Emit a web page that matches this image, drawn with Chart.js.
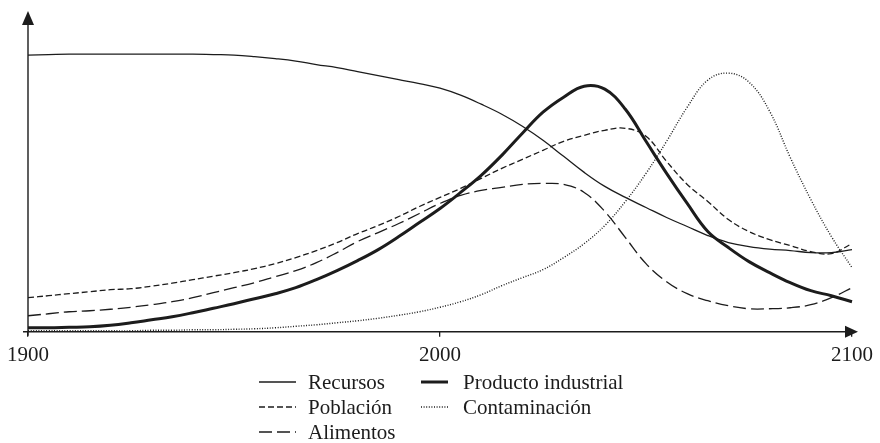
<!DOCTYPE html>
<html>
<head>
<meta charset="utf-8">
<script src="https://cdn.jsdelivr.net/npm/chart.js@4"></script>
<style>
  html, body { margin: 0; padding: 0; background: #fff; }
  #myChart { display: block; }
</style>
</head>
<body>
<canvas id="myChart" width="880" height="443"></canvas>
<script>
    // years on a 5-year grid (arbitrary units)
    const years = [1900, 1905, 1910, 1915, 1920, 1925, 1930, 1935, 1940, 1945,
                   1950, 1955, 1960, 1965, 1970, 1975, 1980, 1985, 1990, 1995,
                   2000, 2005, 2010, 2015, 2020, 2025, 2030, 2035, 2040, 2045,
                   2050, 2055, 2060, 2065, 2070, 2075, 2080, 2085, 2090, 2095, 2100];

    const recursos = [276, 276.5, 277, 277, 277, 277, 277, 277, 277, 276.5,
                      276, 274.5, 272.5, 270, 266.5, 263.5, 259.5, 255.5, 251.5, 247.5,
                      243, 236, 227, 217, 205, 191, 175, 159, 145, 134,
                      124, 114, 105, 96, 89, 85, 82.5, 81, 79, 79, 82];

    const poblacion = [34, 36, 38, 40, 42, 43, 45.5, 48.5, 52, 55.5,
                       59, 63, 68, 74, 81, 89, 98, 106, 115, 125,
                       134, 143, 153, 163, 172, 181, 190, 196, 201, 203,
                       195, 170, 147, 130, 112, 100, 92, 86, 80, 78, 88];

    const alimentos = [16, 18, 20, 21, 22.5, 24.5, 27, 30, 34, 39,
                       44, 49, 55, 61, 69, 79, 90, 99, 108, 118,
                       128, 136, 141, 144, 147, 148, 147, 139, 120, 94,
                       68, 50, 38, 31, 26, 23, 23, 24, 27, 34, 44];

    const producto = [4, 4, 4.5, 5, 6.5, 9, 12, 15, 19, 23.5,
                      28, 33, 38, 44, 52, 61, 71, 82, 95, 109,
                      123, 139, 156, 176, 198, 219, 234, 245, 242, 222,
                      190, 158, 128, 100, 84, 70, 59, 49, 41, 36, 30];

    const contaminacion = [1, 1, 1, 1, 1, 1, 1.5, 1.5, 2, 2,
                           2.5, 3, 4, 5.5, 7, 9, 11, 13.5, 16.5, 20,
                           24.5, 30, 37, 46, 54, 62, 74, 88, 106, 130,
                           158, 190, 224, 251, 258, 249, 220, 174, 132, 95, 64];

    const tickYears = [1900, 2000, 2100];

    const ink = '#1c1c1c';
    const serif = 'Liberation Serif';

    const toPoints = (vals) => vals.map((v, i) => ({x: years[i], y: v}));

    const data = {
      datasets: [
        { label: 'Recursos', data: toPoints(recursos), borderWidth: 1.3, borderDash: [] },
        { label: 'Población', data: toPoints(poblacion), borderWidth: 1.3, borderDash: [6, 3] },
        { label: 'Alimentos', data: toPoints(alimentos), borderWidth: 1.3, borderDash: [13, 5] },
        { label: 'Producto industrial', data: toPoints(producto), borderWidth: 3, borderDash: [] },
        { label: 'Contaminación', data: toPoints(contaminacion), borderWidth: 1.4, borderDash: [1, 1.6] }
      ].map(d => Object.assign(d, {
        borderColor: ink,
        pointRadius: 0,
        fill: false,
        tension: 0.4
      }))
    };

    // axis lines with arrow heads
    const arrowAxes = {
      id: 'arrowAxes',
      afterDraw(chart) {
        const {ctx, chartArea: {left, right, bottom}} = chart;
        ctx.save();
        ctx.strokeStyle = ink;
        ctx.fillStyle = ink;
        ctx.lineWidth = 1.4;

        ctx.beginPath();
        ctx.moveTo(left, bottom + 4);
        ctx.lineTo(left, 22);
        ctx.moveTo(left - 5, bottom);
        ctx.lineTo(right, bottom);
        ctx.stroke();

        ctx.beginPath();
        ctx.moveTo(left, 11);
        ctx.lineTo(left - 6, 25);
        ctx.lineTo(left + 6, 25);
        ctx.closePath();
        ctx.fill();

        ctx.beginPath();
        ctx.moveTo(right + 6, bottom);
        ctx.lineTo(right - 7, bottom - 6);
        ctx.lineTo(right - 7, bottom + 6);
        ctx.closePath();
        ctx.fill();
        ctx.restore();
      }
    };

    // two-column legend under the plot
    const legendSpots = [
      {i: 0, x1: 259, x2: 296, tx: 308, y: 382},
      {i: 1, x1: 259, x2: 296, tx: 308, y: 407},
      {i: 2, x1: 259, x2: 296, tx: 308, y: 432},
      {i: 3, x1: 421, x2: 448, tx: 463, y: 382},
      {i: 4, x1: 421, x2: 448, tx: 463, y: 407}
    ];

    const sideLegend = {
      id: 'sideLegend',
      afterDraw(chart) {
        const {ctx} = chart;
        ctx.save();
        ctx.font = '21px "' + serif + '"';
        ctx.textBaseline = 'middle';
        ctx.textAlign = 'left';
        legendSpots.forEach(s => {
          const ds = chart.data.datasets[s.i];
          ctx.strokeStyle = ink;
          ctx.lineWidth = ds.borderWidth;
          ctx.setLineDash(ds.borderDash);
          ctx.beginPath();
          ctx.moveTo(s.x1, s.y);
          ctx.lineTo(s.x2, s.y);
          ctx.stroke();
          ctx.setLineDash([]);
          ctx.fillStyle = ink;
          ctx.fillText(ds.label, s.tx, s.y + 1);
        });
        ctx.restore();
      }
    };

    const config = {
      type: 'line',
      data,
      options: {
        responsive: false,
        animation: false,
        clip: false,
        layout: { padding: { left: 28, right: 28, top: 24, bottom: 69 } },
        plugins: { legend: { display: false }, tooltip: { enabled: false } },
        scales: {
          x: {
            type: 'linear',
            min: 1900,
            max: 2100,
            afterBuildTicks: (scale) => { scale.ticks = tickYears.map(v => ({value: v})); },
            border: { display: false },
            grid: { drawOnChartArea: false, drawTicks: true, tickLength: 5, color: ink, lineWidth: 1.3 },
            ticks: {
              color: ink,
              font: { family: serif, size: 21 },
              padding: 6,
              maxRotation: 0,
              autoSkip: false,
              callback: (v) => String(v)
            }
          },
          y: {
            display: false,
            min: 0,
            max: 307
          }
        }
      },
      plugins: [arrowAxes, sideLegend]
    };

    const myChart = new Chart(
      document.getElementById('myChart'),
      config
    );
</script>
</body>
</html>
